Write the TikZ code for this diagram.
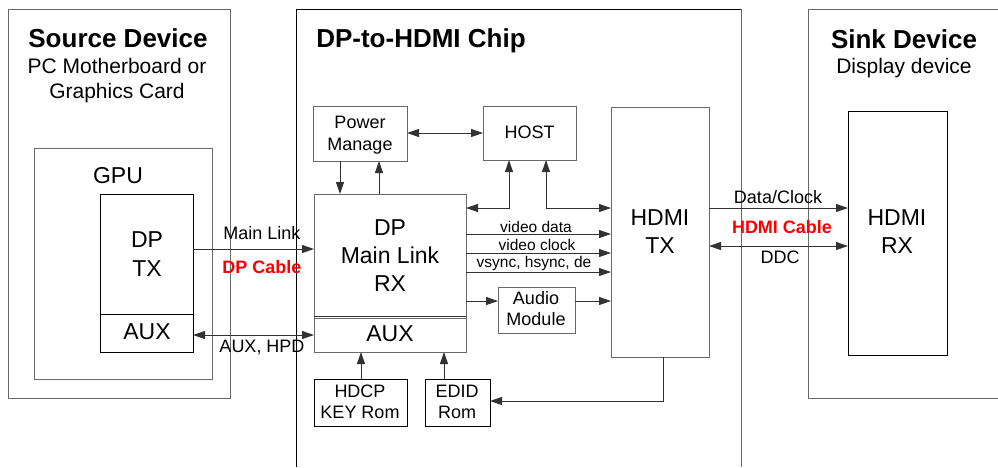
\documentclass[tikz,border=0pt]{standalone}
\usepackage{fontspec}
\setmainfont{Liberation Sans}
\usetikzlibrary{arrows.meta}
\definecolor{boxgray}{RGB}{105,105,105}
\definecolor{linegray}{RGB}{50,50,50}
\definecolor{cablered}{RGB}{255,0,0}
\begin{document}
\begin{tikzpicture}[x=1pt,y=-1pt,
  box/.style={draw=boxgray, line width=1pt, inner sep=0pt, outer sep=0pt},
  bbox/.style={draw=black, line width=1pt, inner sep=0pt, outer sep=0pt},
  frame/.style={draw=boxgray, line width=1pt},
  lbl/.style={anchor=base, inner sep=0pt, outer sep=0pt},
  ttl/.style={lbl, font=\fontsize{26}{30}\selectfont\bfseries},
  sub/.style={lbl, font=\fontsize{21}{25}\selectfont},
  big/.style={lbl, font=\fontsize{23}{27}\selectfont},
  mid/.style={lbl, font=\fontsize{18}{21}\selectfont},
  sml/.style={lbl, font=\fontsize{15.5}{18}\selectfont},
  red/.style={lbl, font=\fontsize{18}{21}\selectfont\bfseries, text=cablered},
  arr/.style={draw=linegray, line width=1pt, -{Triangle[length=12pt,width=8pt]}},
  darr/.style={draw=linegray, line width=1pt, {Triangle[length=12pt,width=8pt]}-{Triangle[length=12pt,width=8pt]}},
  ln/.style={draw=linegray, line width=1pt},
]
\useasboundingbox (0,0) rectangle (998,467);

% ---------- Source device ----------
\node[box, minimum width=222pt, minimum height=389pt] (src) at (119,203.5) {};
\node[ttl] (srct) at (118,47) {Source Device};
\node[sub] (srcs1) at (117,73) {PC Motherboard or};
\node[sub] (srcs2) at (117,98) {Graphics Card};
\node[box, minimum width=178pt, minimum height=231pt] (gpu) at (123,263.5) {};
\node[big] (gput) at (118,183) {GPU};
\node[bbox, minimum width=93pt, minimum height=158pt] (dptx) at (146.5,273) {};
\node[bbox, minimum width=93pt, minimum height=38pt] (dpaux) at (146.5,333) {};
\node[big] (dptx1) at (147,247) {DP};
\node[big] (dptx2) at (147,276) {TX};
\node[big] (dpaux1) at (147,339) {AUX};

% ---------- Chip ----------
\draw[frame, draw=black] (296,467) -- (296,9) -- (741,9);
\draw[frame] (741,9) -- (741,467);
\node[ttl] (chipt) at (421,47) {DP-to-HDMI Chip};

\node[box, minimum width=94pt, minimum height=55pt] (pm) at (360,133.5) {};
\node[mid] (pm1) at (360,128) {Power};
\node[mid] (pm2) at (360,150) {Manage};

\node[box, minimum width=93pt, minimum height=54pt] (host) at (529.5,133) {};
\node[mid] (host1) at (529.5,138) {HOST};

\node[box, minimum width=152pt, minimum height=158pt] (rx) at (390,273) {};
\node[box, minimum width=152pt, minimum height=34pt] (rxaux) at (390,335) {};
\draw[ln] (rx.west |- 0,316) -- (rx.east |- 0,316);
\node[big] (rx1) at (390,235) {DP};
\node[big] (rx2) at (390,263) {Main Link};
\node[big] (rx3) at (390,291) {RX};
\node[big] (rxaux1) at (390,341) {AUX};

\node[box, minimum width=77pt, minimum height=46pt] (audio) at (536.5,310) {};
\node[mid] (audio1) at (536,304) {Audio};
\node[mid] (audio2) at (536,325) {Module};

\node[box, minimum width=98pt, minimum height=250pt] (hdmitx) at (660,232) {};
\node[big] (hdmitx1) at (660,225) {HDMI};
\node[big] (hdmitx2) at (660,253) {TX};

\node[bbox, minimum width=93pt, minimum height=47pt] (hdcp) at (360.5,402.5) {};
\node[mid] (hdcp1) at (360,397) {HDCP};
\node[mid] (hdcp2) at (360,418) {KEY Rom};

\node[bbox, minimum width=65pt, minimum height=47pt] (edid) at (457.5,402.5) {};
\node[mid] (edid1) at (457,397) {EDID};
\node[mid] (edid2) at (457,418) {Rom};

% ---------- Sink device ----------
\draw[frame] (998,9) -- (808,9) -- (808,398) -- (998,398);
\node[ttl] (sinkt) at (904,48) {Sink Device};
\node[sub] (sinks) at (904,73) {Display device};
\node[bbox, minimum width=99pt, minimum height=244pt] (hdmirx) at (897.5,233) {};
\node[big] (hdmirx1) at (897,225) {HDMI};
\node[big] (hdmirx2) at (897,253) {RX};

% ---------- Connectors ----------
\draw[arr] (dptx.east |- 0,249) -- (rx.west |- 0,249);
\draw[darr] (dpaux.east |- 0,335) -- (rxaux.west |- 0,335);
\node[mid] (ml) at (262,239) {Main Link};
\node[red] (dpc) at (262,273) {DP Cable};
\node[mid] (auxhpd) at (262,352) {AUX, HPD};

\draw[darr] (pm.east |- 0,133) -- (host.west |- 0,133);
\draw[arr] (pm.south -| 340,0) -- (rx.north -| 340,0);
\draw[arr] (rx.north -| 379,0) -- (pm.south -| 379,0);
\draw[darr] (host.south -| 509,0) -- (509,208) -- (rx.east |- 0,208);
\draw[darr] (host.south -| 546,0) -- (546,208) -- (hdmitx.west |- 0,208);

\draw[arr] (rx.east |- 0,234) -- (hdmitx.west |- 0,234);
\draw[arr] (rx.east |- 0,253) -- (hdmitx.west |- 0,253);
\draw[arr] (rx.east |- 0,272) -- (hdmitx.west |- 0,272);
\node[sml] (vd) at (536,232) {video data};
\node[sml] (vc) at (537,250) {video clock};
\node[sml] (vs) at (534,267) {vsync, hsync, de};

\draw[arr] (rx.east |- 0,301) -- (audio.west |- 0,301);
\draw[arr] (audio.east |- 0,301) -- (hdmitx.west |- 0,301);

\draw[arr] (hdcp.north -| 361,0) -- (rx.south -| 361,0);
\draw[arr] (edid.north -| 444,0) -- (rx.south -| 444,0);
\draw[arr] (hdmitx.south -| 663,0) -- (663,401) -- (edid.east |- 0,401);

\draw[arr] (hdmitx.east |- 0,208) -- (hdmirx.west |- 0,208);
\draw[darr] (hdmitx.east |- 0,246) -- (hdmirx.west |- 0,246);
\node[mid] (dc) at (778,203) {Data/Clock};
\node[red] (hc) at (782,233) {HDMI Cable};
\node[mid] (ddc) at (780,263) {DDC};
\end{tikzpicture}
\end{document}
